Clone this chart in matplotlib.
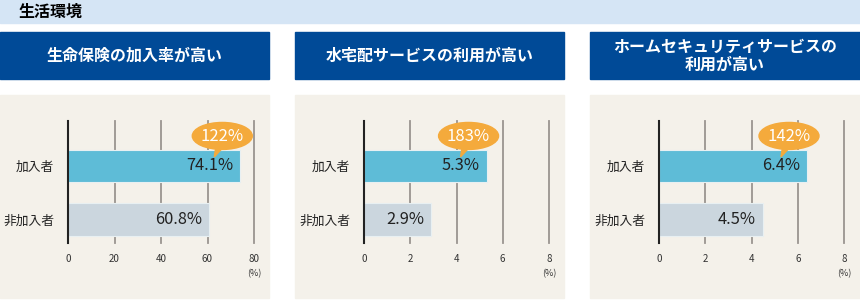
import matplotlib.pyplot as plt
import matplotlib.patches as mpatches
import matplotlib.transforms as mtransforms

plt.rcParams['font.family'] = ['Noto Sans CJK JP', 'DejaVu Sans']

# data
section_title = '生活環境'
panel_titles = ['生命保険の加入率が高い', '水宅配サービスの利用が高い', 'ホームセキュリティサービスの\n利用が高い']
categories = ['加入者', '非加入者']
member_values = [74.1, 5.3, 6.4]
nonmember_values = [60.8, 2.9, 4.5]
ratio_labels = ['122%', '183%', '142%']
x_ticks = [[0, 20, 40, 60, 80], [0, 2, 4, 6, 8], [0, 2, 4, 6, 8]]

W, H = 860, 300
fig = plt.figure(figsize=(W / 100, H / 100), dpi=100)
fig.patch.set_facecolor('white')


def px_rect(x0, y0, x1, y1, color):
    # rectangle given in pixel coords measured from the top
    fig.patches.append(mpatches.Rectangle((x0 / W, 1 - y1 / H), (x1 - x0) / W, (y1 - y0) / H,
                                          transform=fig.transFigure, color=color, zorder=-10))


# top band
px_rect(0, 0, W, 23, '#d5e5f5')
fig.text(19 / W, 1 - 12 / H, section_title, fontsize=11.5, fontweight='bold', va='center', ha='left')

panel_x = [(0, 269), (295, 564), (590, 860)]
axes_x = [(68, 254), (364, 549), (659, 844)]
blue_bar = '#5ebcd7'
grey_bar = '#cbd6de'
orange = '#f4aa3c'

for i in range(3):
    px0, px1 = panel_x[i]
    px_rect(px0, 32, px1, 79, '#004a97')
    fig.text((px0 + px1) / 2 / W, 1 - 55.5 / H, panel_titles[i], color='white', fontsize=11.5,
             fontweight='bold', ha='center', va='center', linespacing=1.15)
    px_rect(px0, 95, px1, 298, '#f4f1ea')

    ax0, ax1 = axes_x[i]
    ax = fig.add_axes([ax0 / W, 57 / H, (ax1 - ax0) / W, 122 / H])
    ax.set_facecolor('none')
    ticks = x_ticks[i]
    xmax = ticks[-1]
    ax.set_xlim(0, xmax)
    ax.set_ylim(1.44, -0.84)

    for t in ticks[1:]:
        ax.axvline(t, color='#9a9590', lw=1.3, zorder=1, clip_on=False)
    ax.axvline(0, color='#222222', lw=1.5, zorder=3, clip_on=False)

    vals = [member_values[i], nonmember_values[i]]
    ax.barh([0, 1], vals, height=0.6, color=[blue_bar, grey_bar], edgecolor='#e8f0f2',
            linewidth=0.8, zorder=2)

    for y, v in zip([0, 1], vals):
        ax.annotate(f'{v}%', xy=(v, y), xytext=(-7, 0), textcoords='offset pixels',
                    ha='right', va='center', fontsize=11.8, color='#222222', zorder=4)

    for sp in ax.spines.values():
        sp.set_visible(False)
    ax.set_xticks(ticks)
    ax.set_xticklabels([str(t) for t in ticks])
    ax.set_yticks([0, 1])
    ax.set_yticklabels(categories)
    ax.tick_params(axis='x', length=0, pad=8, labelsize=7, labelcolor='#333333')
    ax.tick_params(axis='y', length=0, pad=10, labelsize=9.2, labelcolor='#222222')
    ax.text(1.0, -0.25, '(%)', transform=ax.transAxes, fontsize=6.5, ha='center', va='center',
            color='#333333')

    # speech bubble near the end of the member bar
    trans = fig.dpi_scale_trans + mtransforms.ScaledTranslation(member_values[i], 0, ax.transData)
    cx, cy = -0.18, 0.30
    ax.add_patch(mpatches.Polygon([(cx - 0.06, cy - 0.08), (cx + 0.04, cy - 0.08), (cx - 0.08, cy - 0.21)],
                                  closed=True, transform=trans, color=orange, zorder=5, clip_on=False))
    ax.add_patch(mpatches.Ellipse((cx, cy), 0.60, 0.27, transform=trans, color=orange, zorder=5,
                                  clip_on=False))
    ax.text(cx, cy - 0.005, ratio_labels[i], transform=trans, ha='center', va='center', color='white',
            fontsize=12, zorder=6)

fig.savefig('out.png', dpi=100)
